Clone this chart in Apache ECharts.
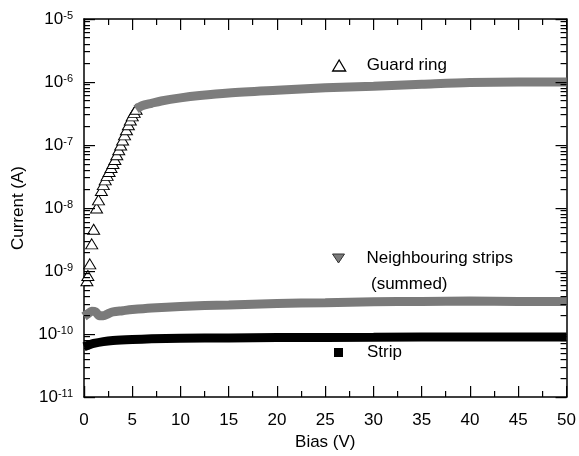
<!DOCTYPE html>
<html><head><meta charset="utf-8">
<script src="https://cdn.jsdelivr.net/npm/echarts@6/dist/echarts.min.js"></script>
<style>html,body{margin:0;padding:0;background:#fff}#c{width:579px;height:456px}</style>
</head><body><div id="c"></div>
<script>
// Guard ring: individual points on the steep rise
const guardRiseBias = [0.3, 0.4, 0.6, 0.8, 1.0, 1.3, 1.5, 1.8, 2.0, 2.2, 2.4, 2.6, 2.8, 3.0, 3.2, 3.4, 3.6, 3.8, 4.0, 4.2, 4.4, 4.6, 4.8, 5.0, 5.2, 5.4];
const guardRiseCurrent = [7e-10, 8.5e-10, 1.3e-9, 2.7e-9, 4.6e-9, 1.0e-8, 1.35e-8, 1.9e-8, 2.35e-8, 2.8e-8, 3.3e-8, 3.8e-8, 4.4e-8, 5.1e-8, 5.9e-8, 7.0e-8, 8.4e-8, 1.0e-7, 1.2e-7, 1.45e-7, 1.75e-7, 2.1e-7, 2.5e-7, 2.9e-7, 3.3e-7, 3.7e-7];
// Guard ring: dense plateau (points overlap into a band)
const guardBandBias = [5.4, 6, 7, 8, 10, 12, 15, 20, 25, 30, 35, 40, 45, 50];
const guardBandCurrent = [3.7e-7, 4.2e-7, 4.6e-7, 5.0e-7, 5.6e-7, 6.1e-7, 6.7e-7, 7.4e-7, 8.1e-7, 8.6e-7, 9.2e-7, 9.8e-7, 1.0e-6, 1.0e-6];
// Neighbouring strips (summed)
const neighBias = [0, 0.4, 0.8, 1.2, 1.6, 2.0, 2.5, 3, 4, 5, 7, 10, 15, 20, 25, 30, 35, 40, 45, 50];
const neighCurrent = [1.9e-10, 2.1e-10, 2.3e-10, 2.25e-10, 1.95e-10, 1.95e-10, 2.1e-10, 2.25e-10, 2.35e-10, 2.45e-10, 2.6e-10, 2.75e-10, 2.9e-10, 3.05e-10, 3.15e-10, 3.25e-10, 3.3e-10, 3.35e-10, 3.3e-10, 3.3e-10];
// Strip
const stripBias = [0, 0.5, 1, 2, 3, 5, 7, 10, 15, 20, 30, 40, 50];
const stripCurrent = [6.3e-11, 6.7e-11, 7.1e-11, 7.6e-11, 7.9e-11, 8.2e-11, 8.4e-11, 8.6e-11, 8.7e-11, 8.8e-11, 8.9e-11, 9.0e-11, 9.0e-11];

// Axis ticks and labels
const xMajorTicks = [0, 5, 10, 15, 20, 25, 30, 35, 40, 45, 50];
const xTickLabels = ['0', '5', '10', '15', '20', '25', '30', '35', '40', '45', '50'];
const xMinorTicks = [2.5, 7.5, 12.5, 17.5, 22.5, 27.5, 32.5, 37.5, 42.5, 47.5];
const yDecadeExponents = [-11, -10, -9, -8, -7, -6, -5];
const minorMultipliers = [2, 3, 4, 5, 6, 7, 8, 9];
const names = ['Guard ring', 'Neighbouring strips', 'Strip'];

const zip = (a, b) => a.map((v, i) => [v, b[i]]);
const yMajorTicks = yDecadeExponents.map(e => Number('1e' + e));
const yMinorTicks = [];
yDecadeExponents.slice(0, -1).forEach(e => minorMultipliers.forEach(m => yMinorTicks.push(Number(m + 'e' + e))));
const FONT = '"Liberation Sans", Arial, Helvetica, sans-serif';
const yMin = yMajorTicks[0];
const yMax = yMajorTicks[yMajorTicks.length - 1];

// tick records: [x, y, kind]  kind 0 = x major, 1 = x minor, 2 = y major, 3 = y minor
const tickData = []
  .concat(xMajorTicks.map(v => [v, yMin, 0]))
  .concat(xMinorTicks.map(v => [v, yMin, 1]))
  .concat(yMajorTicks.map(v => [0, v, 2]))
  .concat(yMinorTicks.map(v => [0, v, 3]));

function renderTick(params, api) {
  const cs = params.coordSys;
  const kind = api.value(2);
  const p = api.coord([api.value(0), api.value(1)]);
  const len = (kind === 0 || kind === 2) ? 11 : 6;
  const style = { fill: '#000' };
  let rects;
  if (kind < 2) {
    const x = Math.round(p[0] - 0.5), yb = cs.y + cs.height, yt = cs.y;
    rects = [[x, yb - len, 1.2, len], [x, yt, 1.2, len]];
  } else {
    const y = Math.round(p[1] - 0.5), xl = cs.x, xr = cs.x + cs.width;
    rects = [[xl, y, len, 1.2], [xr - len, y, len, 1.2]];
  }
  return { type: 'group', children: rects.map(r => ({ type: 'rect', shape: { x: r[0], y: r[1], width: r[2], height: r[3] }, style: style, z2: 100 })) };
}

function xAxisCfg(pos, showLabel) {
  const c = {
    type: 'value', position: pos, min: xMajorTicks[0], max: xMajorTicks[xMajorTicks.length - 1], interval: 5,
    axisLine: { show: true, onZero: false, lineStyle: { color: '#000', width: 1.5 } },
    axisTick: { show: false }, minorTick: { show: false },
    splitLine: { show: false },
    axisLabel: { show: false }
  };
  if (showLabel) {
    c.axisLabel = { show: true, color: '#000', fontSize: 17, fontFamily: FONT, margin: 15, formatter: v => xTickLabels[xMajorTicks.indexOf(Math.round(v))] };
    c.name = 'Bias (V)'; c.nameLocation = 'middle'; c.nameGap = 36;
    c.nameTextStyle = { color: '#000', fontSize: 17, fontFamily: FONT };
  }
  return c;
}
function yAxisCfg(pos, showLabel) {
  const cfg = {
    type: 'log', logBase: 10, position: pos, min: yMin, max: yMax,
    axisLine: { show: true, onZero: false, lineStyle: { color: '#000', width: 1.5 } },
    axisTick: { show: false },
    splitLine: { show: false },
    axisLabel: { show: false }
  };
  if (showLabel) {
    cfg.axisLabel = {
      show: true, color: '#000', fontFamily: FONT, margin: 11,
      formatter: v => '{b|10}{s|' + Math.round(Math.log10(v)) + '}',
      rich: {
        b: { fontSize: 17, fontFamily: FONT, color: '#000' },
        s: { fontSize: 11, fontFamily: FONT, color: '#000', verticalAlign: 'top' }
      }
    };
    cfg.name = 'Current (A)'; cfg.nameLocation = 'middle'; cfg.nameGap = 57;
    cfg.nameTextStyle = { color: '#000', fontSize: 17, fontFamily: FONT };
  }
  return cfg;
}

const legendText = { color: '#000', fontSize: 17, fontFamily: FONT };
const option = {
  animation: false,
  backgroundColor: '#fff',
  grid: { left: 84, right: 10, top: 19, bottom: 58 },
  xAxis: [xAxisCfg('bottom', true), xAxisCfg('top', false)],
  yAxis: [yAxisCfg('left', true), yAxisCfg('right', false)],
  legend: [
    { left: 332, top: 57, padding: 0, itemWidth: 13, itemHeight: 11, selectedMode: false,
      textStyle: Object.assign({ padding: [0, 0, 0, 16] }, legendText),
      data: [{ name: names[0], icon: 'triangle', itemStyle: { color: '#fff', borderColor: '#000', borderWidth: 1.3 } }] },
    { left: 332, top: 250, padding: 0, itemWidth: 12, itemHeight: 9, selectedMode: false,
      textStyle: Object.assign({ padding: [0, 0, 0, 17] }, legendText),
      data: [{ name: names[1], icon: 'path://M0,0L12,0L6,9Z', itemStyle: { color: '#7a7a7a', borderColor: '#333', borderWidth: 1 } }] },
    { left: 334, top: 344, padding: 0, itemWidth: 9, itemHeight: 9, selectedMode: false,
      textStyle: Object.assign({ padding: [0, 0, 0, 19] }, legendText),
      data: [{ name: names[2], icon: 'rect', itemStyle: { color: '#000', borderWidth: 0 } }] }
  ],
  graphic: [{ type: 'text', left: 371, top: 276, style: { text: '(summed)', fill: '#000', font: '17px ' + FONT } }],
  series: [
    { name: names[0], type: 'line', xAxisIndex: 0, yAxisIndex: 0, data: zip(guardBandBias, guardBandCurrent), symbol: 'none', smooth: 0.3,
      lineStyle: { color: '#7d7d7d', width: 9 } },
    { name: names[0], type: 'scatter', xAxisIndex: 0, yAxisIndex: 0, data: zip(guardRiseBias, guardRiseCurrent), symbol: 'triangle', symbolSize: [12, 10],
      itemStyle: { color: '#fff', borderColor: '#000', borderWidth: 1, opacity: 1 } },
    { name: names[1], type: 'line', xAxisIndex: 0, yAxisIndex: 0, data: zip(neighBias, neighCurrent), symbol: 'none', smooth: 0.3,
      lineStyle: { color: '#7a7a7a', width: 9 } },
    { name: names[2], type: 'line', xAxisIndex: 0, yAxisIndex: 0, data: zip(stripBias, stripCurrent), symbol: 'none', smooth: 0.3,
      lineStyle: { color: '#000', width: 9 } },
    { type: 'custom', xAxisIndex: 0, yAxisIndex: 0, data: tickData, encode: { x: 0, y: 1 },
      renderItem: renderTick, silent: true, z: 5 }
  ]
};
const chart = echarts.init(document.getElementById('c'));
chart.setOption(option);
</script></body></html>
